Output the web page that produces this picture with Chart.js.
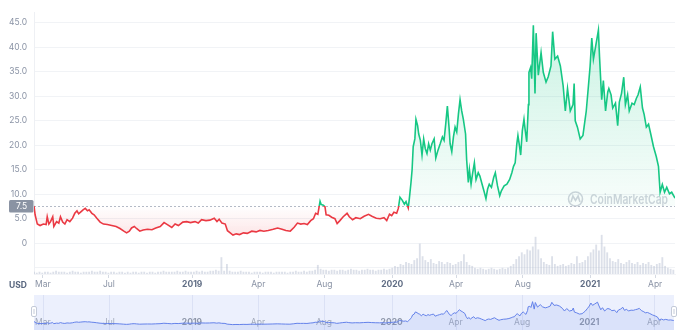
<!DOCTYPE html>
<html>
<head>
<meta charset="utf-8">
<script src="https://cdn.jsdelivr.net/npm/chart.js@4.4.1/dist/chart.umd.min.js"></script>
<style>
  body { margin: 0; background: #fff; }
  #wrap { position: relative; width: 679px; height: 336px; }
  #price { position: absolute; left: 0; top: 0; }
  #nav { position: absolute; left: 0; top: 290px; }
</style>
</head>
<body>
<div id="wrap">
  <canvas id="price" width="679" height="290"></canvas>
  <canvas id="nav" width="679" height="46"></canvas>
</div>
<script>
// day offsets from the first candle, and closing price in USD
const days = [
  0,2,6,11,17,22,24,27,30,34,36,41,45,48,52,56,60,65,70,74,78,81,85,89,93,97,100,105,109,114,
  120,126,133,141,149,156,163,168,173,177,182,186,192,198,206,214,221,229,236,242,250,256,262,270,
  277,284,292,298,304,312,319,327,332,336,341,347,351,
  356,361,367,373,380,387,395,403,410,417,425,434,442,450,457,465,472,478,484,490,496,502,507,511,
  515,519,521,525,528,530,535,540,546,550,555,561,568,572,578,584,592,599,607,613,621,628,635,640,
  645,649,653,658,661,664,668,672,675,679,681,
  684,686,688,691,693,696,698,701,704,707,710,713,716,719,722,726,729,733,737,741,744,747,750,753,
  755,758,761,764,767,770,773,776,779,783,785,788,790,793,796,799,802,806,809,813,817,820,823,826,
  830,834,837,841,845,848,853,858,863,867,870,873,876,878,881,883,886,889,891,894,897,898,901,903,
  906,909,911,915,920,924,929,933,938,941,945,950,955,960,964,968,973,978,980,982,986,991,996,998,
  1002,1006,1009,1012,1015,1019,1024,1026,1030,1033,1037,1041,1043,1047,1050,1055,1059,1062,1066,
  1070,1073,1077,1080,1085,1089,1093,1096,1100,1104,1107,1111,1115,1119,1124,1129,1133,1136,1140,
  1144,1148,1153,1157,1162,1163
];
const prices = [
  7.6,5.8,3.9,3.6,3.9,3.8,5.4,3.9,4.4,5.4,3.4,4.4,4.1,5.4,4.3,3.9,4.8,4.4,5.1,6.1,6.6,6.0,6.4,6.8,
  7.1,6.6,6.8,6.1,5.8,5.1,4.3,3.9,3.8,3.6,3.4,3.0,2.45,2.1,2.45,3.1,3.4,3.0,2.45,2.7,2.85,2.75,3.1,
  3.4,4.2,3.8,3.2,3.9,3.6,4.3,4.4,4.2,4.4,4.1,4.8,4.6,4.7,5.1,4.4,4.9,4.1,3.9,2.55,
  2.1,1.65,1.9,1.75,2.1,2.0,2.45,2.3,2.6,2.45,2.6,2.85,3.1,2.85,2.6,2.45,3.25,4.1,3.9,4.0,3.8,4.6,
  5.0,6.1,5.9,8.55,7.9,7.75,7.4,5.8,5.7,5.3,5.0,4.0,4.6,5.4,6.1,5.4,4.8,5.2,5.0,5.5,5.9,5.5,5.1,5.0,
  5.2,4.6,5.9,5.6,6.3,6.1,7.1,9.4,8.8,7.95,8.5,7.2,9.1,
  12.4,15.0,19.7,21.3,25.3,24.0,22.3,21.0,18.0,21.3,19.3,18.3,20.3,19.0,20.3,21.3,17.4,19.0,20.3,
  21.7,21.0,24.3,28.0,23.7,20.3,18.7,21.7,23.7,22.7,26.3,29.3,27.0,25.3,22.3,17.0,12.4,15.0,12.05,
  14.4,16.4,13.0,14.4,13.7,12.05,10.4,9.1,11.05,12.05,11.4,13.4,14.4,11.7,9.7,10.7,11.7,12.05,13.0,
  14.4,15.7,16.4,20.3,22.0,19.7,18.0,23.0,25.3,23.3,20.7,28.3,34.9,35.9,33.6,44.5,30.6,42.9,34.3,
  38.9,34.9,32.9,34.0,36.2,43.2,37.6,38.2,36.2,32.2,27.0,31.6,27.0,28.3,32.6,25.0,23.7,21.3,22.0,
  23.7,27.0,32.2,36.2,41.9,37.6,40.2,43.5,38.2,29.3,33.2,27.0,30.9,31.6,30.3,27.6,28.6,24.0,28.8,
  30.6,33.9,28.3,30.3,27.0,28.6,28.3,29.6,30.3,31.9,27.6,26.3,23.7,24.3,22.3,19.7,17.7,15.7,10.4,
  12.0,10.4,11.4,10.1,10.4,9.4,9.6
];
// 24h volume (USD, millions), one bar every 5 days
const volumeStep = 5;
const volumes = [
  20,10,20,10,20,20,10,20,30,20, 20,20,10,20,30,20,20,10,20,20,
  20,30,20,20,30,20,20,10,20,20, 10,20,20,10,20,10,20,20,10,20,
  20,10,20,20,10,20,20,30,20,20, 20,20,30,20,20,30,20,20,20,30,
  20,30,20,20,30,30,40,30,170,30, 100,30,20,20,20,30,20,20,20,10,
  20,20,20,10,20,20,20,10,20,20, 20,20,10,20,20,30,20,20,30,20,
  30,30,40,90,50,40,40,30,40,40, 30,40,40,30,40,50,40,40,30,40,
  40,50,40,40,30,40,40,50,40,50, 60,80,70,100,90,120,110,100,140,160,
  310,180,140,120,150,110,100,130,120,100, 120,110,90,100,120,130,200,120,90,80,
  60,50,60,50,40,50,60,50,40,50, 60,50,60,80,100,150,180,220,200,250,
  240,280,380,250,160,120,100,90,180,100, 80,90,100,80,90,110,100,180,110,120,
  140,180,220,250,300,240,400,280,220,160, 130,120,150,110,100,120,140,110,100,120,
  90,110,100,120,90,80,100,110,170,80, 60,50,40
];
const tickDays = [16, 136, 287, 407, 527, 650, 766, 887, 1009, 1127];
const tickLabels = ['Mar', 'Jul', '2019', 'Apr', 'Aug', '2020', 'Apr', 'Aug', '2021', 'Apr'];
const priceTicks = [-5, 0, 5, 10, 15, 20, 25, 30, 35, 40, 45];
const openPrice = 7.5;

const UP = '#16c784';
const DOWN = '#ea3943';
const FONT = 'Inter, "Noto Sans", sans-serif';
Chart.defaults.font.family = FONT;

const isYear = i => /^\d{4}$/.test(tickLabels[i] || '');
const points = days.map((d, i) => ({ x: d, y: prices[i] }));
const volPoints = volumes.map((v, i) => ({ x: i * volumeStep, y: v }));

// split colour at the opening price: green above, red below
function lineGradient(ctx) {
  const chart = ctx.chart;
  const area = chart.chartArea;
  if (!area || !chart.scales.y) return UP;
  const h = area.bottom - area.top;
  const f = (chart.scales.y.getPixelForValue(openPrice) - area.top) / h;
  const g = chart.ctx.createLinearGradient(0, area.top, 0, area.bottom);
  g.addColorStop(0, UP);
  g.addColorStop(f, UP);
  g.addColorStop(f, DOWN);
  g.addColorStop(1, DOWN);
  return g;
}

function fillGradient(ctx) {
  const chart = ctx.chart;
  const area = chart.chartArea;
  if (!area || !chart.scales.y) return 'rgba(22,199,132,0.1)';
  const y = chart.scales.y;
  const h = area.bottom - area.top;
  const f = (y.getPixelForValue(openPrice) - area.top) / h;
  const f2 = (y.getPixelForValue(1.5) - area.top) / h;
  const g = chart.ctx.createLinearGradient(0, area.top, 0, area.bottom);
  g.addColorStop(0, 'rgba(22,199,132,0.24)');
  g.addColorStop(f, 'rgba(22,199,132,0.03)');
  g.addColorStop(f, 'rgba(234,57,67,0)');
  g.addColorStop(f2, 'rgba(234,57,67,0.13)');
  g.addColorStop(1, 'rgba(234,57,67,0.13)');
  return g;
}

const priceDecor = {
  id: 'priceDecor',
  beforeDatasetsDraw(chart) {
    const { ctx, chartArea: a, scales } = chart;
    const yb = Math.round(scales.y.getPixelForValue(openPrice)) + 0.5;

    // watermark
    ctx.save();
    ctx.strokeStyle = '#d0d4dc';
    ctx.fillStyle = '#d0d4dc';
    ctx.lineWidth = 1.6;
    const cx = 575.5, cy = 199;
    ctx.beginPath();
    ctx.arc(cx, cy, 7, 0, Math.PI * 2);
    ctx.stroke();
    ctx.beginPath();
    ctx.moveTo(cx - 4.5, cy + 3);
    ctx.lineTo(cx - 2.6, cy - 3);
    ctx.lineTo(cx, cy + 1.5);
    ctx.lineTo(cx + 2.6, cy - 3);
    ctx.lineTo(cx + 4.5, cy + 3);
    ctx.stroke();
    ctx.font = '600 13px ' + FONT;
    ctx.textBaseline = 'alphabetic';
    ctx.fillText('CoinMarketCap', 590, 204, 78);
    ctx.restore();

    // opening price reference line
    ctx.save();
    ctx.strokeStyle = '#b4bac6';
    ctx.lineWidth = 1;
    ctx.setLineDash([2, 2]);
    ctx.beginPath();
    ctx.moveTo(a.left, yb);
    ctx.lineTo(a.right, yb);
    ctx.stroke();
    ctx.restore();
  },
  afterDraw(chart) {
    const { ctx, scales } = chart;
    const yb = scales.y.getPixelForValue(openPrice);
    ctx.save();
    ctx.fillStyle = '#8a93a3';
    ctx.beginPath();
    ctx.roundRect(9, yb - 6.5, 24.5, 12.5, 1.5);
    ctx.fill();
    ctx.fillStyle = '#fff';
    ctx.font = '8.5px ' + FONT;
    ctx.textAlign = 'center';
    ctx.textBaseline = 'middle';
    ctx.fillText(openPrice.toFixed(1), 21.5, yb);
    ctx.fillStyle = '#58667e';
    ctx.font = 'bold 8.5px ' + FONT;
    ctx.textAlign = 'left';
    ctx.fillText('USD', 9, 285.5);
    ctx.restore();
  }
};

new Chart(document.getElementById('price'), {
  type: 'line',
  data: {
    datasets: [
      {
        type: 'line',
        data: points,
        borderColor: lineGradient,
        backgroundColor: fillGradient,
        fill: { target: { value: openPrice } },
        borderWidth: 1.6,
        pointRadius: 0,
        tension: 0,
        order: 0
      },
      {
        type: 'bar',
        data: volPoints,
        yAxisID: 'yv',
        backgroundColor: 'rgba(178,187,206,0.45)',
        barThickness: 1.2,
        order: 1
      }
    ]
  },
  options: {
    responsive: false,
    animation: false,
    layout: { padding: { top: 5, right: 4, left: 0, bottom: 0 } },
    plugins: { legend: { display: false }, tooltip: { enabled: false } },
    scales: {
      x: {
        type: 'linear',
        min: 0,
        max: 1163,
        offset: false,
        afterBuildTicks: s => { s.ticks = tickDays.map(v => ({ value: v })); },
        afterFit: s => { s.height = 16; s.paddingLeft = 0; s.paddingRight = 0; },
        grid: { drawOnChartArea: false, drawTicks: true, tickLength: 4, color: '#d5dae3', offset: false },
        border: { color: '#f3f4f7' },
        ticks: {
          autoSkip: false,
          maxRotation: 0,
          padding: 1,
          callback: (v, i) => tickLabels[i],
          color: c => isYear(c.index) ? '#616e85' : '#8a93a5',
          font: c => ({ size: 8.5, weight: isYear(c.index) ? 'bold' : 'normal' })
        }
      },
      y: {
        min: -6.3,
        max: 47.2,
        afterBuildTicks: s => { s.ticks = priceTicks.map(v => ({ value: v })); },
        afterFit: s => { s.width = 34; },
        grid: { color: '#f1f3f6', drawTicks: false },
        border: { color: '#eef0f4' },
        ticks: {
          padding: 7,
          color: '#8a93a5',
          font: { size: 8.5 },
          callback: v => v < 0 ? '' : (v === 0 ? '0' : v.toFixed(1))
        }
      },
      yv: { display: false, min: 0, max: 2700 }
    }
  },
  plugins: [priceDecor]
});

// range navigator under the main chart
const navDecor = {
  id: 'navDecor',
  beforeDatasetsDraw(chart) {
    const { ctx, chartArea: a, scales } = chart;
    ctx.save();
    ctx.fillStyle = '#ecf0fd';
    ctx.fillRect(a.left, a.top, a.right - a.left, a.bottom - a.top);
    ctx.strokeStyle = '#dbe1f5';
    ctx.lineWidth = 1;
    tickDays.forEach((d, i) => {
      const x = Math.round(scales.x.getPixelForValue(d)) + 0.5;
      ctx.beginPath();
      ctx.moveTo(x, a.top);
      ctx.lineTo(x, a.bottom);
      ctx.stroke();
    });
    ctx.textAlign = 'center';
    ctx.textBaseline = 'middle';
    tickDays.forEach((d, i) => {
      const x = scales.x.getPixelForValue(d);
      ctx.fillStyle = isYear(i) ? '#8e97aa' : '#a2aabb';
      ctx.font = (isYear(i) ? 'bold ' : '') + '8.5px ' + FONT;
      ctx.fillText(tickLabels[i], x, a.top + 27);
    });
    ctx.restore();
  },
  afterDraw(chart) {
    const { ctx, chartArea: a } = chart;
    ctx.save();
    [a.left - 2, a.right - 2].forEach(x => {
      ctx.fillStyle = '#fff';
      ctx.strokeStyle = '#c3cad8';
      ctx.lineWidth = 1;
      ctx.beginPath();
      ctx.roundRect(x - 0.5, a.top + 11.5, 5, 10, 1.5);
      ctx.fill();
      ctx.stroke();
      ctx.beginPath();
      ctx.moveTo(x + 2, a.top + 14);
      ctx.lineTo(x + 2, a.top + 19);
      ctx.stroke();
    });
    ctx.restore();
  }
};

new Chart(document.getElementById('nav'), {
  type: 'line',
  data: {
    datasets: [{
      data: points,
      borderColor: '#6482ea',
      borderWidth: 1,
      backgroundColor: 'rgba(100,130,234,0.13)',
      fill: 'start',
      pointRadius: 0,
      tension: 0
    }]
  },
  options: {
    responsive: false,
    animation: false,
    layout: { padding: { top: 5, bottom: 6, left: 34, right: 5 } },
    plugins: { legend: { display: false }, tooltip: { enabled: false } },
    scales: {
      x: { type: 'linear', display: false, min: 0, max: 1163 },
      y: { display: false, min: -8.4, max: 56.9 }
    }
  },
  plugins: [navDecor]
});
</script>
</body>
</html>
